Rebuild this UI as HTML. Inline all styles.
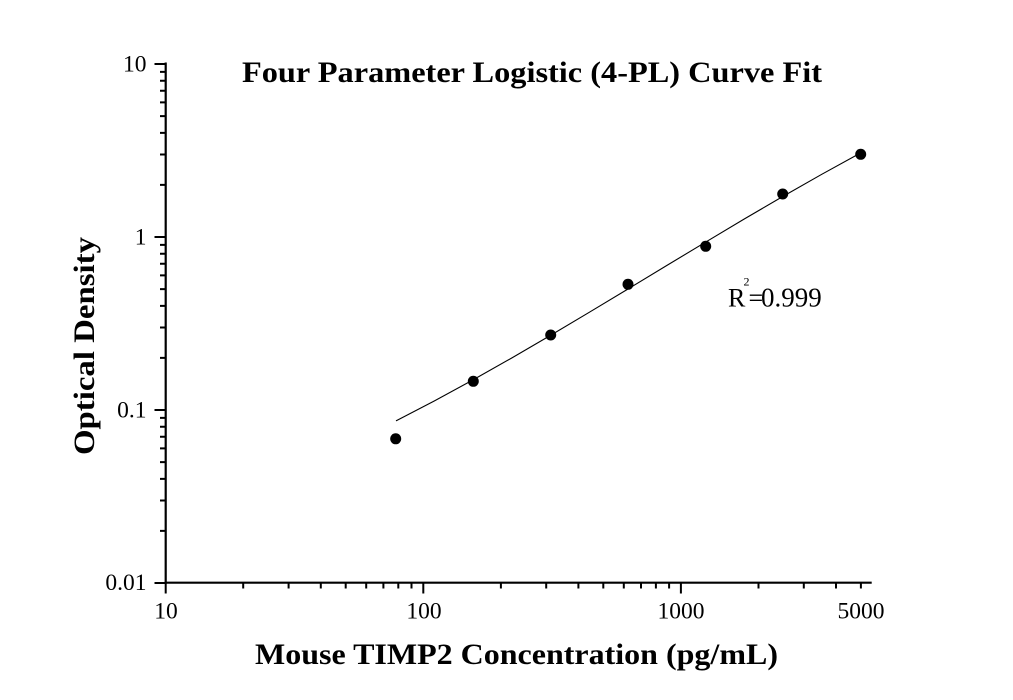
<!DOCTYPE html>
<html>
<head>
<meta charset="utf-8">
<style>
  html,body{margin:0;padding:0;background:#fff;}
  svg{display:block;}
  text{font-family:"Liberation Serif","Times New Roman",serif;fill:#000;}
</style>
</head>
<body>
<svg width="1013" height="700" viewBox="0 0 1013 700" xmlns="http://www.w3.org/2000/svg">
  <rect width="1013" height="700" fill="#fff"/>

  <!-- Title -->
  <text x="242" y="82" font-size="30" font-weight="bold" textLength="580" lengthAdjust="spacingAndGlyphs">Four Parameter Logistic (4-PL) Curve Fit</text>

  <!-- Axes -->
  <g stroke="#000" stroke-width="2.2" fill="none">
    <line x1="165.7" y1="62.5" x2="165.7" y2="583.8"/>
    <line x1="164.6" y1="582.7" x2="871.7" y2="582.7"/>
  </g>

  <!-- Y ticks -->
  <g stroke="#000" stroke-width="2" fill="none">
    <path d="M154.5 64H165.7 M154.5 237H165.7 M154.5 410H165.7 M154.5 583H165.7"/>
    <path d="M160 184.9H165.7 M160 154.5H165.7 M160 132.9H165.7 M160 116.1H165.7 M160 102.4H165.7 M160 90.8H165.7 M160 80.8H165.7 M160 71.9H165.7
             M160 357.9H165.7 M160 327.5H165.7 M160 305.9H165.7 M160 289.1H165.7 M160 275.4H165.7 M160 263.8H165.7 M160 253.8H165.7 M160 244.9H165.7
             M160 530.9H165.7 M160 500.5H165.7 M160 478.9H165.7 M160 462.1H165.7 M160 448.4H165.7 M160 436.8H165.7 M160 426.8H165.7 M160 417.9H165.7"/>
  </g>

  <!-- X ticks -->
  <g stroke="#000" stroke-width="2" fill="none">
    <path d="M165.7 582.7V593.5 M423.3 582.7V593.5 M680.9 582.7V593.5"/>
    <path d="M243.2 582.7V588.5 M288.6 582.7V588.5 M320.8 582.7V588.5 M345.7 582.7V588.5 M366.2 582.7V588.5 M383.4 582.7V588.5 M398.3 582.7V588.5 M411.5 582.7V588.5
             M500.9 582.7V588.5 M546.2 582.7V588.5 M578.4 582.7V588.5 M603.3 582.7V588.5 M623.8 582.7V588.5 M641.0 582.7V588.5 M655.9 582.7V588.5 M669.1 582.7V588.5
             M758.5 582.7V588.5 M803.8 582.7V588.5 M836.0 582.7V588.5 M860.9 582.7V588.5"/>
  </g>

  <!-- Y tick labels -->
  <g font-size="23.5" text-anchor="end">
    <text x="146.5" y="71.5">10</text>
    <text x="146.5" y="244.5">1</text>
    <text x="146.5" y="417.5">0.1</text>
    <text x="146.5" y="590">0.01</text>
  </g>

  <!-- X tick labels -->
  <g font-size="23.5" text-anchor="middle">
    <text x="166" y="618.5">10</text>
    <text x="424" y="618.5">100</text>
    <text x="681" y="618.5">1000</text>
    <text x="861" y="618.5">5000</text>
  </g>

  <!-- Axis labels -->
  <text x="255" y="664" font-size="30" font-weight="bold" textLength="523" lengthAdjust="spacingAndGlyphs">Mouse TIMP2 Concentration (pg/mL)</text>
  <text transform="translate(94,455) rotate(-90)" x="0" y="0" font-size="30" font-weight="bold" textLength="218" lengthAdjust="spacingAndGlyphs">Optical Density</text>

  <!-- Fit curve -->
  <polyline points="396,420.9 434.25,401.0 473,379.9 511.75,358.0 550.5,335.4 589.25,312.3 628,289.0 666.75,265.5 705.5,242.2 744.25,219.0 783,196.4 821.75,174.3 860.5,153.0"
        fill="none" stroke="#000" stroke-width="1.1" stroke-linejoin="round"/>

  <!-- Data points -->
  <g fill="#000">
    <circle cx="395.7" cy="438.8" r="5.5"/>
    <circle cx="473.3" cy="381.3" r="5.5"/>
    <circle cx="550.7" cy="335" r="5.5"/>
    <circle cx="628" cy="284.3" r="5.5"/>
    <circle cx="705.7" cy="246.3" r="5.5"/>
    <circle cx="782.7" cy="194" r="5.5"/>
    <circle cx="860.7" cy="154.3" r="5.5"/>
  </g>

  <!-- R^2 annotation -->
  <text font-size="26" x="728" y="306.5">R</text>
  <text font-size="12" x="743.5" y="285.5">2</text>
  <text font-size="26" x="748.5" y="306.5">=</text>
  <text font-size="27" x="761" y="306.5">0.999</text>
</svg>
</body>
</html>
